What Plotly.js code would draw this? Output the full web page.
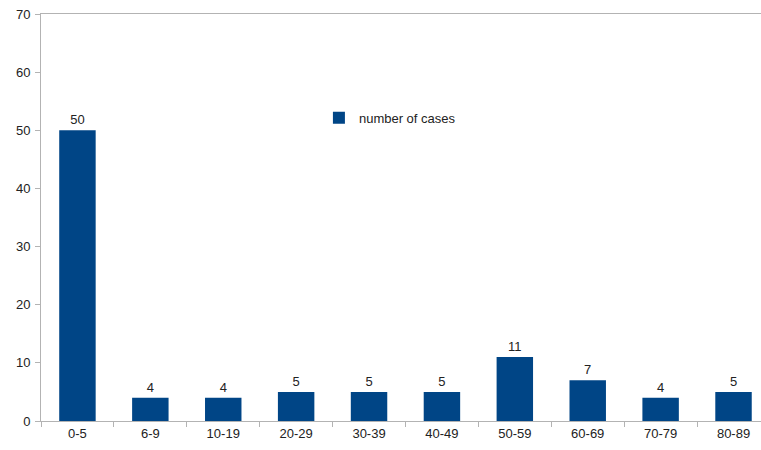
<!DOCTYPE html>
<html>
<head>
<meta charset="utf-8">
<script src="https://cdn.plot.ly/plotly-3.0.1.min.js"></script>
<style>html,body{margin:0;padding:0;background:#fff}#chart{width:761px;height:450px}</style>
</head>
<body>
<div id="chart"></div>
<script>
const categories = ["0-5","6-9","10-19","20-29","30-39","40-49","50-59","60-69","70-79","80-89"];
const cases = [50,4,4,5,5,5,11,7,4,5];
const seriesName = "number of cases";
const yTicks = [0,10,20,30,40,50,60,70];

const trace = {
  type: "bar",
  x: categories,
  y: cases,
  name: seriesName,
  text: cases.map(String),
  textposition: "outside",
  cliponaxis: false,
  textfont: {family: "Liberation Sans, Arial, sans-serif", size: 13, color: "#222"},
  marker: {color: "#004586", line: {width: 0}},
  width: 0.5,
  showlegend: true
};

const layout = {
  width: 761, height: 450,
  margin: {l: 41, r: 0, t: 14, b: 29},
  paper_bgcolor: "#fff", plot_bgcolor: "#fff",
  font: {family: "Liberation Sans, Arial, sans-serif", size: 13, color: "#222"},
  showlegend: true,
  legend: {x: 0.386, y: 0.745, xanchor: "left", yanchor: "middle", bgcolor: "rgba(0,0,0,0)",
           font: {size: 13, color: "#222"}, itemwidth: 30},
  xaxis: {
    type: "category",
    range: [-0.5, 9.377],
    tickson: "boundaries",
    ticks: "outside", ticklen: 5, tickcolor: "#b3b3b3",
    showline: true, linecolor: "#b3b3b3", linewidth: 1, mirror: true,
    showgrid: false, zeroline: false,
    tickfont: {size: 13, color: "#222"}
  },
  yaxis: {
    range: [0, 70],
    tickvals: yTicks,
    ticks: "outside", ticklen: 5, tickcolor: "#b3b3b3",
    showline: true, linecolor: "#b3b3b3", linewidth: 1,
    showgrid: false, zeroline: false,
    tickfont: {size: 13, color: "#222"},
    ticklabelstandoff: 2
  },
  bargap: 0.5
};

Plotly.newPlot("chart", [trace], layout, {displayModeBar: false, staticPlot: true});
</script>
</body>
</html>
